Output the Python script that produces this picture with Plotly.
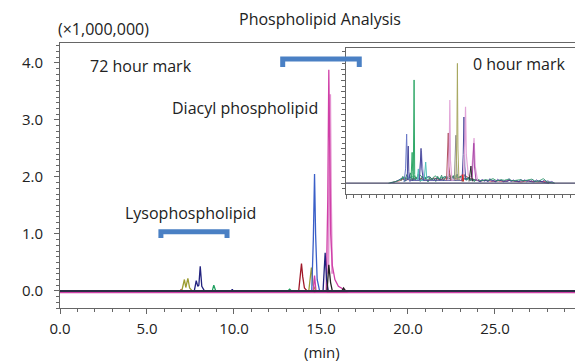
import plotly.graph_objects as go

# ---------------- data ----------------
# 72 hour mark (main chart), time in min, intensity in x1,000,000
darkred_t = [0, 6.9, 6.96, 7.02, 13.72, 13.8, 13.88, 13.95, 14.05, 14.2, 29.6]
darkred_y = [0, 0, 0.02, 0, 0, 0.3, 0.48, 0.25, 0.05, 0, 0]
olive_t = [0, 7.0, 7.15, 7.23, 7.35, 7.45, 7.6, 14.3, 14.45, 14.55, 14.7, 29.6]
olive_y = [0, 0, 0.2, 0.06, 0.22, 0.05, 0, 0, 0.41, 0.1, 0, 0]
blue_t = [0, 14.47, 14.56, 14.63, 14.69, 14.78, 14.92, 29.6]
blue_y = [0, 0, 0.9, 2.05, 1.0, 0.2, 0, 0]
navy_t = [0, 7.72, 7.83, 7.92, 7.98, 8.06, 8.15, 8.3, 9.85, 9.9, 9.95,
          15.12, 15.24, 15.32, 15.42, 29.6]
navy_y = [0, 0, 0.18, 0.08, 0.1, 0.43, 0.08, 0, 0, 0.03, 0,
          0, 0.67, 0.2, 0, 0]
magenta_t = [0, 14.55, 14.63, 14.72, 15.3, 15.39, 15.45, 15.5, 15.56, 15.65,
             15.8, 16.0, 16.3, 16.6, 29.6]
magenta_y = [-0.025, -0.025, 0.27, -0.025, -0.025, 1.6, 3.88, 2.5, 1.0, 0.45,
             0.2, 0.08, 0.02, -0.025, -0.025]
pink_t = [15.42, 15.49, 15.53, 15.57, 15.64]
pink_y = [0.3, 2.2, 3.45, 1.8, 0.3]
black_t = [0, 15.35, 15.45, 15.55, 15.65, 16.2, 16.3, 16.4, 29.6]
black_y = [0, 0, 0.46, 0.15, 0, 0, 0.05, 0, 0]
green_t = [0, 8.75, 8.84, 8.95, 13.1, 13.2, 13.3, 29.6]
green_y = [0, 0, 0.1, 0, 0, 0.03, 0, 0]

# 0 hour mark (inset)
in_blue_t = [7.5, 7.7, 7.84, 7.95, 8.1, 8.3]
in_blue_y = [0.02, 0.25, 0.86, 0.2, 0.08, 0.02]
in_navy_t = [7.9, 8.0, 8.05, 8.12, 8.3, 9.5, 9.62, 9.7, 9.8, 10.0,
             15.0, 15.15, 15.25, 15.35, 15.5]
in_navy_y = [0.05, 0.3, 0.65, 0.2, 0.05, 0.05, 0.35, 0.61, 0.25, 0.05,
             0.05, 0.5, 1.16, 0.3, 0.05]
in_green_t = [8.4, 8.55, 8.62, 8.7, 8.8, 8.88, 9.0]
in_green_y = [0.05, 0.54, 0.2, 0.1, 1.81, 0.15, 0.05]
in_teal_t = [9.2, 9.35, 9.45, 10.1, 10.3, 10.45]
in_teal_y = [0.05, 0.25, 0.05, 0.05, 0.37, 0.05]
in_lav_t = [9.4, 9.6, 9.75, 9.9, 10.1]
in_lav_y = [0.05, 0.3, 0.56, 0.3, 0.05]
in_dred_t = [13.0, 13.15, 13.22, 13.3, 13.5]
in_dred_y = [0.05, 0.5, 0.88, 0.3, 0.05]
in_pink_t = [13.2, 13.35, 13.42, 13.5, 13.7, 15.2, 15.35, 15.45, 15.55, 15.8,
             16.2, 16.4, 16.55, 16.7, 17.0]
in_pink_y = [0.05, 0.6, 1.46, 0.4, 0.05, 0.1, 0.7, 1.34, 0.5, 0.15,
             0.1, 0.5, 0.79, 0.3, 0.05]
in_grey_t = [14.0, 14.12, 14.2, 14.28, 14.4]
in_grey_y = [0.05, 0.5, 0.84, 0.4, 0.05]
in_olive_t = [14.2, 14.33, 14.4, 14.47, 14.6]
in_olive_y = [0.05, 0.8, 2.1, 0.6, 0.05]
in_purple_t = [16.3, 16.45, 16.52, 16.6, 16.8]
in_purple_y = [0.05, 0.4, 0.7, 0.3, 0.05]
in_black_t = [15.9, 16.05, 16.15, 16.25, 16.4]
in_black_y = [0.03, 0.15, 0.3, 0.1, 0.03]
in_red_t = [15.0, 15.1, 15.2]
in_red_y = [0.03, 0.15, 0.03]

noise_a_t = [5.5, 6.0, 6.5, 7.0, 7.5, 8.0, 8.5, 9.0, 9.5, 10.0, 10.5, 11.0,
             11.5, 12.0, 12.5, 13.0, 13.5, 14.0, 14.5, 15.0, 15.5, 16.0, 16.5,
             17.0, 17.5, 18.0, 18.5, 19.0, 19.5, 20.0, 20.5, 21.0, 21.5, 22.0,
             22.5, 23.0, 23.5, 24.0, 24.5, 25.0, 25.5, 26.0, 26.5, 27.0]
noise_a_y = [0.0, 0.01, 0.03, 0.06, 0.10, 0.08, 0.12, 0.07, 0.15, 0.09, 0.11,
             0.06, 0.13, 0.08, 0.10, 0.12, 0.07, 0.14, 0.09, 0.11, 0.06, 0.08,
             0.05, 0.07, 0.04, 0.06, 0.05, 0.08, 0.04, 0.06, 0.05, 0.07, 0.04,
             0.05, 0.06, 0.04, 0.05, 0.07, 0.03, 0.04, 0.08, 0.02, 0.01, 0.0]
noise_b_t = [5.75, 6.25, 6.75, 7.25, 7.75, 8.25, 8.75, 9.25, 9.75, 10.25,
             10.75, 11.25, 11.75, 12.25, 12.75, 13.25, 13.75, 14.25, 14.75,
             15.25, 15.75, 16.25, 16.75, 17.25, 17.75, 18.25, 18.75, 19.25,
             19.75, 20.25, 20.75, 21.25, 21.75, 22.25, 22.75, 23.25, 23.75,
             24.25, 24.75, 25.25, 25.75, 26.25]
noise_b_y = [0.01, 0.02, 0.05, 0.09, 0.04, 0.11, 0.06, 0.09, 0.05, 0.08, 0.12,
             0.05, 0.09, 0.06, 0.11, 0.08, 0.10, 0.06, 0.12, 0.07, 0.09, 0.05,
             0.06, 0.03, 0.05, 0.04, 0.06, 0.03, 0.05, 0.04, 0.03, 0.05, 0.04,
             0.03, 0.04, 0.05, 0.03, 0.02, 0.04, 0.02, 0.01, 0.0]
noise_c_t = [6.1, 6.9, 7.6, 8.3, 9.1, 9.9, 10.6, 11.4, 12.1, 12.9, 13.6, 14.4,
             15.1, 15.9, 16.6, 17.4, 18.1, 18.9, 19.6, 20.4, 21.1, 21.9, 22.6,
             23.4, 24.1, 24.9, 25.6, 26.4]
noise_c_y = [0.02, 0.04, 0.08, 0.05, 0.10, 0.07, 0.05, 0.09, 0.06, 0.08, 0.13,
             0.07, 0.16, 0.09, 0.06, 0.04, 0.05, 0.03, 0.04, 0.03, 0.05, 0.03,
             0.02, 0.04, 0.03, 0.02, 0.03, 0.01]
noise_d_t = [7.1, 7.35, 7.6, 7.85, 8.1, 8.35, 8.6, 8.85, 9.1, 9.35, 9.6, 9.85,
             10.1, 10.35, 10.6, 10.85, 11.1, 11.35, 11.6, 11.85, 12.1, 12.35,
             12.6, 12.85, 13.1, 13.35, 13.6, 13.85, 14.1, 14.35, 14.6, 14.85,
             15.1, 15.35, 15.6, 15.85, 16.1, 16.35, 16.6, 16.85]
noise_d_y = [0.04, 0.12, 0.03, 0.15, 0.06, 0.18, 0.04, 0.13, 0.07, 0.16, 0.03,
             0.12, 0.05, 0.10, 0.02, 0.11, 0.06, 0.09, 0.03, 0.12, 0.05, 0.14,
             0.04, 0.10, 0.07, 0.17, 0.05, 0.13, 0.04, 0.16, 0.06, 0.12, 0.03,
             0.15, 0.05, 0.11, 0.04, 0.09, 0.03, 0.06]
noise_e_t = [17.1, 17.35, 17.6, 17.85, 18.1, 18.35, 18.6, 18.85, 19.1, 19.35,
             19.6, 19.85, 20.1, 20.35, 20.6, 20.85, 21.1, 21.35, 21.6, 21.85,
             22.1, 22.35, 22.6, 22.85, 23.1, 23.35, 23.6, 23.85, 24.1, 24.35,
             24.6, 24.85, 25.1, 25.35, 25.6, 25.85, 26.1, 26.35, 26.6, 26.85]
noise_e_y = [0.05, 0.02, 0.07, 0.03, 0.06, 0.02, 0.08, 0.03, 0.05, 0.02, 0.07,
             0.04, 0.06, 0.02, 0.05, 0.03, 0.08, 0.02, 0.06, 0.03, 0.05, 0.02,
             0.07, 0.03, 0.06, 0.02, 0.05, 0.03, 0.07, 0.02, 0.06, 0.03, 0.05,
             0.02, 0.06, 0.03, 0.04, 0.02, 0.03, 0.01]
base_t = [0, 29.6]
base_y = [0, 0]

x_ticks = [0, 5, 10, 15, 20, 25]
x_labels = ["0.0", "5.0", "10.0", "15.0", "20.0", "25.0"]
y_ticks = [0, 1, 2, 3, 4]
y_labels = ["0.0", "1.0", "2.0", "3.0", "4.0"]

bracket_lyso_x = [5.8, 9.6]
bracket_lyso_y = [0.93, 1.04]
bracket_diacyl_x = [12.8, 17.2]
bracket_diacyl_y = [3.93, 4.07]

# ---------------- figure ----------------
W, H = 575, 363
L, R, T, B = 60, 0, 43, 55
PW, PH = W - L - R, H - T - B


def px(x):
    return (x - L) / PW


def py(y):
    return (H - B - y) / PH


FONT = "Open Sans"
TXT = 16
fig = go.Figure()


def add(t, y, color, width=1.3, axis=1, opacity=1.0):
    fig.add_trace(go.Scatter(
        x=t, y=y, mode="lines", line=dict(color=color, width=width),
        opacity=opacity, showlegend=False, hoverinfo="skip",
        xaxis="x" if axis == 1 else "x2", yaxis="y" if axis == 1 else "y2"))


# main traces
add(base_t, [-0.025, -0.025], "#c8389a", 2)
add(green_t, green_y, "#20a060")
add(darkred_t, darkred_y, "#a01828")
add(olive_t, olive_y, "#9c9c30")
add(blue_t, blue_y, "#3a5fc8")
add(pink_t, pink_y, "#e080c8", 1.8, opacity=0.85)
add(magenta_t, magenta_y, "#d040a8")
add(navy_t, navy_y, "#22227e")
add(black_t, black_y, "#202020")
add(base_t, base_y, "#2c2c44", 2)

# inset traces
add(noise_c_t, noise_c_y, "#d03040", 1, 2, 0.8)
add(noise_e_t, noise_e_y, "#5a4aa8", 1, 2, 0.85)
add(noise_b_t, noise_b_y, "#30308a", 1, 2, 0.8)
add(noise_d_t, noise_d_y, "#1e7a5a", 1, 2, 0.85)
add(noise_a_t, noise_a_y, "#2a9a6a", 1, 2, 0.85)
add(in_lav_t, in_lav_y, "#a8a8e0", 1, 2)
add(in_teal_t, in_teal_y, "#50c0b8", 1, 2)
add(in_blue_t, in_blue_y, "#6a78c8", 1, 2)
add(in_green_t, in_green_y, "#30a868", 1, 2)
add(in_navy_t, in_navy_y, "#4a4a9c", 1, 2)
add(in_dred_t, in_dred_y, "#b05060", 1, 2)
add(in_pink_t, in_pink_y, "#e2a4d8", 1.2, 2)
add(in_grey_t, in_grey_y, "#909090", 1, 2)
add(in_olive_t, in_olive_y, "#a8a860", 1, 2)
add(in_purple_t, in_purple_y, "#a848a8", 1, 2)
add(in_black_t, in_black_y, "#303030", 1, 2)
add(in_red_t, in_red_y, "#e02020", 1, 2)
add(base_t, base_y, "#404060", 1.2, 2)

axis_col = "#666666"
fig.update_layout(
    width=W, height=H, margin=dict(l=L, r=R, t=T, b=B),
    paper_bgcolor="white", plot_bgcolor="white",
    font=dict(family=FONT, size=TXT, color="#222222"),
    xaxis=dict(range=[0, 29.6], domain=[0, 1], showgrid=False, zeroline=False,
               showline=True, linecolor=axis_col, linewidth=1, mirror=True,
               tickvals=x_ticks, ticktext=x_labels, ticks="outside", ticklen=5,
               tickcolor=axis_col, ticklabelstandoff=2,
               minor=dict(dtick=1, ticks="outside", ticklen=3, tickcolor=axis_col),
               tickfont=dict(size=15)),
    yaxis=dict(range=[-0.3, 4.35], domain=[0, 1], showgrid=False, zeroline=False,
               showline=True, linecolor=axis_col, linewidth=1,
               tickvals=y_ticks, ticktext=y_labels, ticks="outside", ticklen=5,
               tickcolor=axis_col, ticklabelstandoff=8,
               minor=dict(dtick=0.1, ticks="outside", ticklen=3, tickcolor=axis_col),
               tickfont=dict(size=15)),
    xaxis2=dict(range=[0, 29.6], domain=[px(346), 1], anchor="y2",
                showgrid=False, zeroline=False, showline=True, linecolor=axis_col,
                linewidth=1, mirror=True, showticklabels=False, dtick=5,
                ticks="outside", ticklen=4, tickcolor=axis_col,
                minor=dict(dtick=1, ticks="outside", ticklen=3, tickcolor=axis_col)),
    yaxis2=dict(range=[-0.19, 2.37], domain=[py(194), py(48)], anchor="x2",
                showgrid=False, zeroline=False, showline=True, linecolor=axis_col,
                linewidth=1, showticklabels=False, dtick=0.2,
                ticks="outside", ticklen=4, tickcolor=axis_col,
                minor=dict(dtick=0.1, ticks="outside", ticklen=3, tickcolor=axis_col)),
)

fig.add_shape(type="rect", xref="paper", yref="paper", x0=px(346), x1=1,
              y0=py(194), y1=py(48), fillcolor="white", line=dict(width=0),
              layer="below")

bcol = "#4a80c4"
for bx, by in [(bracket_lyso_x, bracket_lyso_y), (bracket_diacyl_x, bracket_diacyl_y)]:
    fig.add_shape(type="path", xref="x", yref="y",
                  path=f"M {bx[0]},{by[0]} L {bx[0]},{by[1]} L {bx[1]},{by[1]} L {bx[1]},{by[0]}",
                  line=dict(color=bcol, width=5), layer="above")


def ann(text, x, y, anchor="left", size=TXT):
    fig.add_annotation(text=text, xref="paper", yref="paper", x=px(x), y=py(y),
                       xanchor=anchor, yanchor="middle", showarrow=False,
                       font=dict(family=FONT, size=size, color="#222222"))


ann("Phospholipid Analysis", 320, 19, "center")
ann("(×1,000,000)", 56, 29)
ann("72 hour mark", 88, 66)
ann("Diacyl phospholipid", 170, 108)
ann("Lysophospholipid", 123, 213)
ann("0 hour mark", 471, 64)
ann("(min)", 322, 352, "center", 15)

fig.write_html("out.html")
